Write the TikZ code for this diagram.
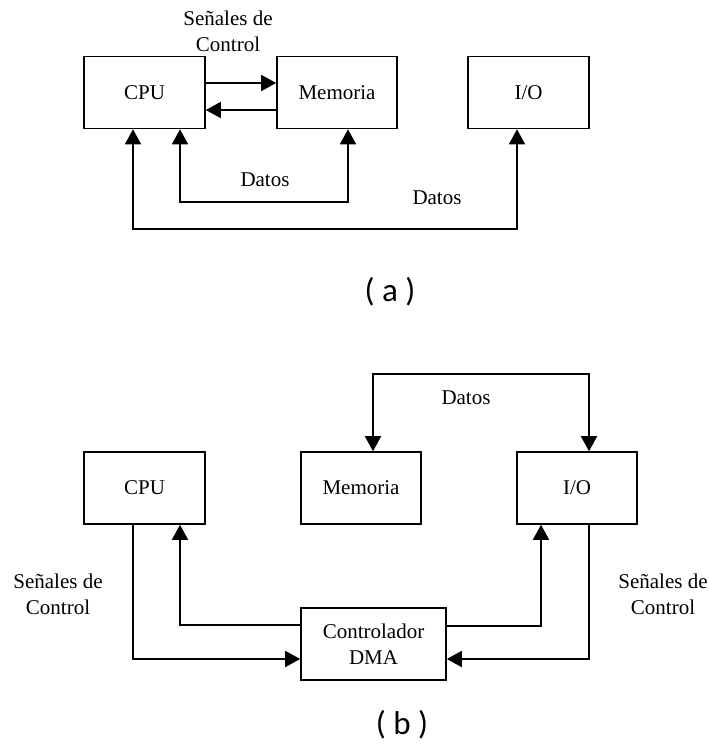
\documentclass[tikz,border=0pt]{standalone}
\usepackage{fontspec}
\setmainfont{Liberation Serif}
\newfontfamily\labfont{Carlito}
\usetikzlibrary{arrows.meta}
\tikzset{
  box/.style={draw, line width=1.6pt, minimum height=72pt, inner sep=0pt, align=center, font=\fontsize{21}{26}\selectfont},
  lbl/.style={font=\fontsize{21}{26}\selectfont, align=center, inner sep=0pt},
  captxt/.style={font=\labfont\fontsize{33}{38}\selectfont, inner sep=0pt},
  conn/.style={line width=1.6pt, -{Triangle[width=16pt,length=15pt]}},
  conn2/.style={line width=1.6pt, {Triangle[width=16pt,length=15pt]}-{Triangle[width=16pt,length=15pt]}}
}
\begin{document}
\begin{tikzpicture}[x=1pt,y=-1pt]
\useasboundingbox (0,0) rectangle (709,747);
% ---------- (a) ----------
\node[box, minimum width=121pt] (cpuA) at (144.5,92.5) {CPU};
\node[box, minimum width=120pt] (memA) at (337,92.5) {Memoria};
\node[box, minimum width=121pt] (ioA) at (528.5,92.5) {I/O};
\node[lbl] (sigA) at (228,31.5) {Señales de\\Control};
\coordinate (a1) at (0,83);
\coordinate (a2) at (0,110);
\draw[conn] (cpuA.east |- a1) -- (memA.west |- a1);
\draw[conn] (memA.west |- a2) -- (cpuA.east |- a2);
\coordinate (d1) at (180,202);
\coordinate (d2) at (348,202);
\draw[conn2] (cpuA.south -| d1) -- (d1) -- (d2) -- (memA.south -| d2);
\coordinate (e1) at (133,229);
\coordinate (e2) at (517,229);
\draw[conn2] (cpuA.south -| e1) -- (e1) -- (e2) -- (ioA.south -| e2);
\node[lbl] (datA1) at (265,180) {Datos};
\node[lbl] (datA2) at (437,198) {Datos};
\node[captxt] (capA) at (390,292) {( a )};
% ---------- (b) ----------
\node[box, minimum width=121pt] (cpuB) at (144.5,488) {CPU};
\node[box, minimum width=120pt] (memB) at (361,488) {Memoria};
\node[box, minimum width=120pt] (ioB) at (577,488) {I/O};
\node[box, minimum width=145pt] (dma) at (373.5,644) {Controlador\\DMA};
\coordinate (f1) at (373,374);
\coordinate (f2) at (589,374);
\draw[conn2] (memB.north -| f1) -- (f1) -- (f2) -- (ioB.north -| f2);
\node[lbl] (datB) at (466,398) {Datos};
\coordinate (g1) at (133,659);
\draw[conn] (cpuB.south -| g1) -- (g1) -- (dma.west |- g1);
\coordinate (g2) at (180,625);
\draw[conn] (dma.west |- g2) -- (g2) -- (cpuB.south -| g2);
\coordinate (h1) at (541,626);
\draw[conn] (dma.east |- h1) -- (h1) -- (ioB.south -| h1);
\coordinate (h2) at (589,659);
\draw[conn] (ioB.south -| h2) -- (h2) -- (dma.east |- h2);
\node[lbl] (sigB1) at (58,594) {Señales de\\Control};
\node[lbl] (sigB2) at (663,594) {Señales de\\Control};
\node[captxt] (capB) at (402,725) {( b )};
\end{tikzpicture}
\end{document}
